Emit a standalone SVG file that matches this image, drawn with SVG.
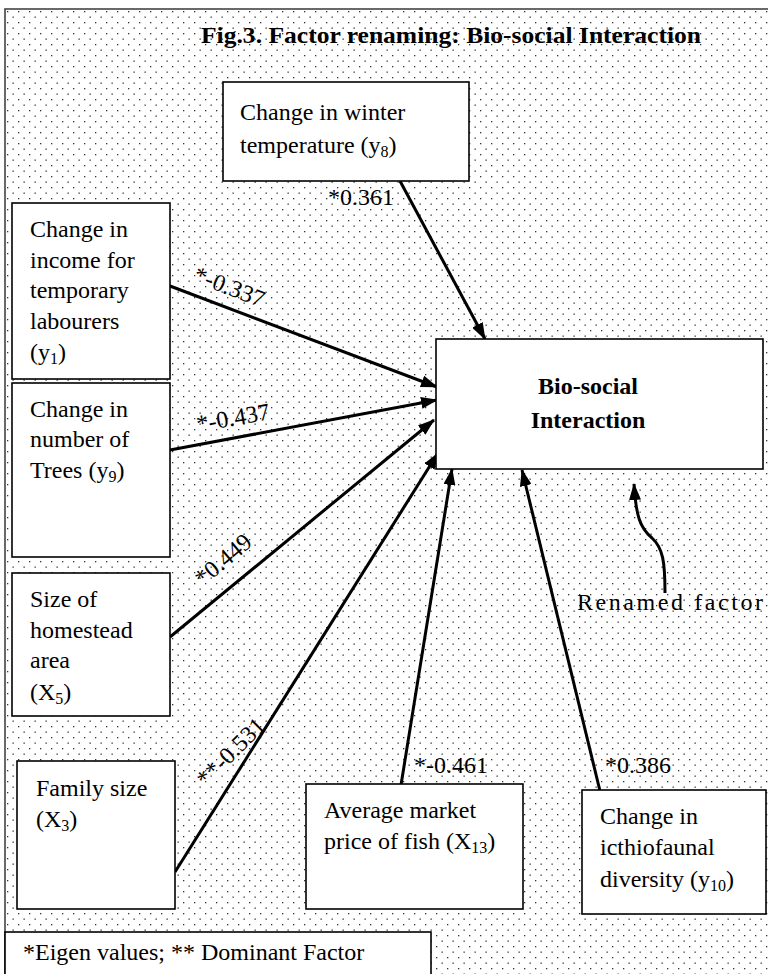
<svg xmlns="http://www.w3.org/2000/svg" width="768" height="974" viewBox="0 0 768 974">
<style>
.box{fill:#fff;stroke:#000;stroke-width:1.6}
.t{font-family:"Liberation Serif","Times New Roman",serif;font-size:24px;fill:#000}
.sub{font-size:16px}
.b{font-weight:bold}
.ln{stroke:#000;stroke-width:3;fill:none;marker-end:url(#ah)}
.lbl{font-family:"Liberation Serif","Times New Roman",serif;font-size:24px;fill:#000}
</style>
<defs>
<pattern id="dots" x="5" y="9" width="11" height="11" patternUnits="userSpaceOnUse">
<rect x="0" y="0" width="11" height="11" fill="#fff"/>
<rect x="2" y="2" width="1.3" height="1.3" fill="#333"/>
<rect x="7.5" y="7.5" width="1.3" height="1.3" fill="#333"/>
</pattern>
<marker id="ah" markerWidth="17" markerHeight="12" refX="16" refY="6" orient="auto" markerUnits="userSpaceOnUse">
<path d="M0,0 L17,6 L0,12 z" fill="#000"/>
</marker>
</defs>
<rect x="0" y="0" width="768" height="974" fill="#fff"/>
<rect x="5" y="9" width="800" height="1000" fill="url(#dots)" stroke="#444" stroke-width="1.6"/>
<text class="t b" x="201" y="43" textLength="500" lengthAdjust="spacingAndGlyphs">Fig.3. Factor renaming: Bio-social Interaction</text>

<g id="connectors">
<line class="ln" x1="400" y1="181" x2="485" y2="339"/>
<line class="ln" x1="170" y1="286" x2="437" y2="387"/>
<line class="ln" x1="170" y1="450" x2="437" y2="400"/>
<line class="ln" x1="170" y1="637" x2="434" y2="420"/>
<line class="ln" x1="175" y1="872" x2="438" y2="453"/>
<line class="ln" x1="401" y1="785" x2="452" y2="469"/>
<line class="ln" x1="600" y1="791" x2="522" y2="470"/>
<path class="ln" d="M665,593 C665,562 663,548 652,538 C640,528 636,516 634,484"/>
<text class="lbl" x="328" y="205">*0.361</text>
<text class="lbl" transform="translate(192,281) rotate(21)">*-0.337</text>
<text class="lbl" transform="translate(198,432) rotate(-10)">*-0.437</text>
<text class="lbl" transform="translate(203,587) rotate(-40)">*0.449</text>
<text class="lbl" transform="translate(206,788) rotate(-45)">**-0.531</text>
<text class="lbl" x="414" y="773">*-0.461</text>
<text class="lbl" x="605" y="773">*0.386</text>
</g>

<g id="n-winter">
<rect class="box" x="223" y="82" width="246" height="99"/>
<text class="t" x="240" y="120">Change in winter</text>
<text class="t" x="240" y="153">temperature (y<tspan class="sub" dy="4">8</tspan><tspan dy="-4">)</tspan></text>
</g>
<g id="n-income">
<rect class="box" x="12" y="203" width="158" height="176"/>
<text class="t" x="30" y="237">Change in</text>
<text class="t" x="30" y="268">income for</text>
<text class="t" x="30" y="298">temporary</text>
<text class="t" x="30" y="329">labourers</text>
<text class="t" x="30" y="360">(y<tspan class="sub" dy="4">1</tspan><tspan dy="-4">)</tspan></text>
</g>
<g id="n-trees">
<rect class="box" x="12" y="383" width="158" height="174"/>
<text class="t" x="30" y="417">Change in</text>
<text class="t" x="30" y="447">number of</text>
<text class="t" x="30" y="478">Trees (y<tspan class="sub" dy="4">9</tspan><tspan dy="-4">)</tspan></text>
</g>
<g id="n-homestead">
<rect class="box" x="12" y="573" width="158" height="143"/>
<text class="t" x="30" y="607">Size of</text>
<text class="t" x="30" y="638">homestead</text>
<text class="t" x="30" y="668">area</text>
<text class="t" x="30" y="700">(X<tspan class="sub" dy="4">5</tspan><tspan dy="-4">)</tspan></text>
</g>
<g id="n-family">
<rect class="box" x="17" y="761" width="158" height="148"/>
<text class="t" x="36" y="796">Family size</text>
<text class="t" x="36" y="827">(X<tspan class="sub" dy="4">3</tspan><tspan dy="-4">)</tspan></text>
</g>
<g id="n-market">
<rect class="box" x="306" y="784" width="217" height="125"/>
<text class="t" x="324" y="818">Average market</text>
<text class="t" x="324" y="849">price of fish (X<tspan class="sub" dy="4">13</tspan><tspan dy="-4">)</tspan></text>
</g>
<g id="n-ichthyo">
<rect class="box" x="582" y="790" width="184" height="124"/>
<text class="t" x="600" y="824">Change in</text>
<text class="t" x="600" y="855">icthiofaunal</text>
<text class="t" x="600" y="887">diversity (y<tspan class="sub" dy="4">10</tspan><tspan dy="-4">)</tspan></text>
</g>
<g id="n-biosocial">
<rect class="box" x="436" y="339" width="327" height="130"/>
<text class="t b" x="588" y="394" text-anchor="middle" font-size="30">Bio-social</text>
<text class="t b" x="588" y="428" text-anchor="middle" font-size="30">Interaction</text>
</g>
<g id="n-renamed">
<text class="t" x="577" y="610" font-size="28" textLength="186" lengthAdjust="spacing">Renamed factor</text>
</g>
<g id="n-legend">
<rect class="box" x="5" y="932" width="426" height="60"/>
<text class="t" x="23" y="960" font-size="26">*Eigen values; ** Dominant Factor</text>
</g>
</svg>
